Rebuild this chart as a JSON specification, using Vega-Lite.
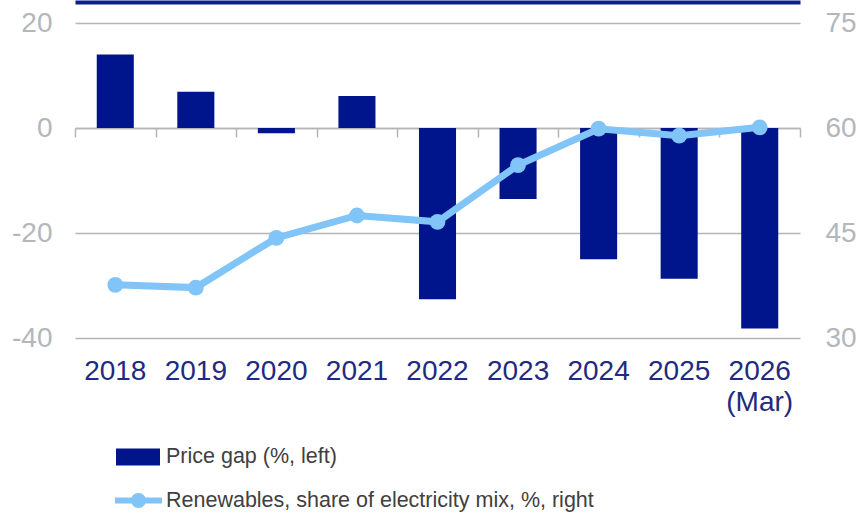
{
  "$schema": "https://vega.github.io/schema/vega-lite/v6.json",
  "width": 725,
  "height": 315,
  "autosize": {"type": "none"},
  "padding": {"left": 75, "top": 23, "right": 60, "bottom": 177},
  "background": "white",
  "config": {"view": {"stroke": null}, "font": "Liberation Sans"},
  "data": {
    "values": [
      {"year": "2018", "gap": 14.0, "ren": 37.6},
      {"year": "2019", "gap": 6.9, "ren": 37.2},
      {"year": "2020", "gap": -1.0, "ren": 44.3},
      {"year": "2021", "gap": 6.1, "ren": 47.5},
      {"year": "2022", "gap": -32.6, "ren": 46.6},
      {"year": "2023", "gap": -13.5, "ren": 54.7},
      {"year": "2024", "gap": -25.0, "ren": 59.9},
      {"year": "2025", "gap": -28.7, "ren": 58.9},
      {"year": "2026", "gap": -38.2, "ren": 60.1}
    ]
  },
  "layer": [
    {
      "mark": {"type": "bar"},
      "encoding": {
        "x": {
          "field": "year", "type": "ordinal",
          "scale": {"type": "band", "paddingInner": 0.54, "paddingOuter": 0.27},
          "axis": {
            "orient": "bottom", "title": null, "domain": false, "ticks": false, "grid": false,
            "labelFontSize": 28, "labelColor": "#1f2a80", "labelPadding": 19, "labelAngle": 0,
            "labelLineHeight": 31,
            "labelExpr": "datum.label == '2026' ? ['2026', '(Mar)'] : datum.label"
          }
        },
        "y": {
          "field": "gap", "type": "quantitative",
          "scale": {"domain": [-40, 20], "nice": false},
          "axis": {
            "orient": "left", "values": [-40, -20, 0, 20], "title": null, "domain": false, "ticks": false,
            "labelFontSize": 28, "labelColor": "#b3b7bc", "labelPadding": 23,
            "labelExpr": "'' + datum.value",
            "grid": true, "gridColor": "#b5b5b5", "gridWidth": 1.5
          }
        },
        "color": {
          "datum": "Price gap (%, left)",
          "scale": {"range": ["#00148c"]},
          "legend": {
            "title": null, "orient": "none", "legendX": 41, "legendY": 412,
            "symbolType": "M-1,-0.386H1V0.386H-1Z", "symbolSize": 1936, "symbolStrokeWidth": 0,
            "labelFont": "Liberation Sans", "labelFontSize": 21.5, "labelLimit": 0, "labelColor": "#404040", "labelOffset": 6
          }
        }
      }
    },
    {
      "mark": {"type": "line", "strokeWidth": 7},
      "encoding": {
        "x": {
          "field": "year", "type": "ordinal",
          "scale": {"type": "band", "paddingInner": 0, "paddingOuter": 0},
          "axis": {
            "orient": "bottom", "offset": -210, "labels": false, "title": null, "grid": false,
            "domain": true, "domainColor": "#b5b5b5", "domainWidth": 1.5,
            "ticks": true, "tickBand": "extent", "tickSize": 9, "tickColor": "#b5b5b5", "tickWidth": 1.5
          }
        },
        "y": {
          "field": "ren", "type": "quantitative",
          "scale": {"domain": [30, 75], "nice": false},
          "axis": {
            "orient": "right", "values": [30, 45, 60, 75], "title": null, "domain": false, "ticks": false, "grid": false,
            "labelFontSize": 28, "labelColor": "#b3b7bc", "labelPadding": 25
          }
        },
        "color": {
          "datum": "Renewables, share of electricity mix, %, right",
          "scale": {"range": ["#80c4f8"]},
          "legend": {
            "title": null, "orient": "none", "legendX": 40, "legendY": 454,
            "symbolType": "M-1,-0.13H1V0.13H-1Z M-0.32,0A0.32,0.32,0,1,1,0.32,0A0.32,0.32,0,1,1,-0.32,0Z",
            "symbolSize": 2209, "symbolStrokeWidth": 0,
            "labelFont": "Liberation Sans", "labelFontSize": 21.5, "labelLimit": 0, "labelColor": "#404040", "labelOffset": 4,
            "encode": {"symbols": {"update": {"fill": {"value": "#80c4f8"}, "stroke": {"value": "transparent"}, "opacity": {"value": 1}}}}
          }
        }
      }
    },
    {
      "mark": {"type": "point", "filled": true, "size": 250, "opacity": 1, "color": "#80c4f8"},
      "encoding": {
        "x": {
          "field": "year", "type": "ordinal",
          "scale": {"type": "band", "paddingInner": 0, "paddingOuter": 0},
          "axis": {
            "orient": "top", "labels": false, "ticks": false, "title": null, "grid": false,
            "domain": true, "domainColor": "#0a1e8c", "domainWidth": 4, "offset": 21
          }
        },
        "y": {
          "field": "ren", "type": "quantitative",
          "scale": {"domain": [30, 75], "nice": false},
          "axis": null
        }
      }
    }
  ],
  "resolve": {
    "scale": {"x": "independent", "y": "independent", "color": "independent"},
    "axis": {"x": "independent", "y": "independent"}
  }
}
